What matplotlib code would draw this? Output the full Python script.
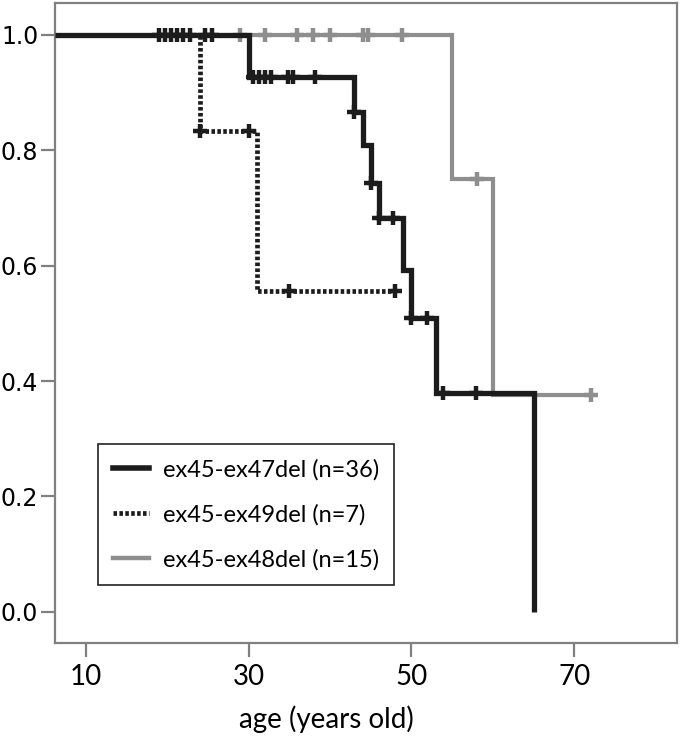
import numpy as np
import matplotlib
matplotlib.use("Agg")
import matplotlib.pyplot as plt
from matplotlib.lines import Line2D

plt.rcParams['font.family'] = ['Lato', 'DejaVu Sans']

# ex45-ex47del (n=36): step times / survival, censored ages
t47 = [6.2, 30, 43, 44, 45, 46, 49, 50, 53, 65]
s47 = [1.0, 0.926, 0.867, 0.809, 0.743, 0.683, 0.593, 0.51, 0.38, 0.0]
c47 = [19, 19.7, 20.5, 21.2, 22.8, 24.6, 25.5, 30.5, 31.3, 32, 32.7, 34.8,
       35.4, 38.1, 43, 45, 46, 47.7, 50, 51.9, 53.9, 57.9]

# ex45-ex49del (n=7)
t49 = [22, 24, 31, 48]
s49 = [1.0, 0.833, 0.556, 0.556]
c49 = [22, 24, 30, 35, 48]

# ex45-ex48del (n=15)
t48 = [29, 55, 60, 72]
s48 = [1.0, 0.75, 0.375, 0.375]
c48 = [29, 32, 35.9, 37.9, 40, 44, 44.7, 48.8, 58, 72]

labels = ["ex45-ex47del (n=36)", "ex45-ex49del (n=7)", "ex45-ex48del (n=15)"]

black = "#1c1c1c"
grey = "#8e8e8e"
dotted = (0, (0.75, 0.5))


def surv_at(t, s, c):
    idx = np.searchsorted(t, c, side='right') - 1
    return np.array(s)[idx]


fig = plt.figure(figsize=(6.89, 7.37), dpi=100)
ax = fig.add_axes([0.0798, 0.1275, 0.9028, 0.8684])

ax.step(t48, s48, where='post', color=grey, lw=3.0, solid_joinstyle='miter',
        solid_capstyle='butt', zorder=2)
ax.plot(c48, surv_at(t48, s48, c48), ls='none', marker='+', ms=10, mew=3.2,
        color=grey, zorder=2)

ax.step(t49, s49, where='post', color=black, lw=3.4, ls=dotted, zorder=3)
ax.plot(c49, surv_at(t49, s49, c49), ls='none', marker='+', ms=10, mew=3.2,
        color=black, zorder=3)

ax.step(t47, s47, where='post', color=black, lw=3.8, solid_joinstyle='miter',
        solid_capstyle='butt', zorder=4)
ax.plot(c47, surv_at(t47, s47, c47), ls='none', marker='+', ms=10, mew=3.2,
        color=black, zorder=4)

ax.set_xlim(6.23, 82.6)
ax.set_ylim(-0.054, 1.055)
ax.set_xticks([10, 30, 50, 70])
ax.set_yticks([0.0, 0.2, 0.4, 0.6, 0.8, 1.0])
ax.set_yticklabels(["0.0", "0.2", "0.4", "0.6", "0.8", "1.0"],
                   family='DejaVu Sans', fontsize=17)
ax.tick_params(axis='x', labelsize=20, length=10, width=1.6, color='#808080',
               pad=5)
ax.tick_params(axis='y', length=10, width=1.6, color='#808080', pad=2)
for sp in ax.spines.values():
    sp.set_color('#808080')
    sp.set_linewidth(1.6)

ax.set_xlabel("age (years old)", fontsize=20)
ax.xaxis.label.set_va('center')
ax.xaxis.set_label_coords(0.437, -0.119)

handles = [Line2D([], [], color=black, lw=4.0),
           Line2D([], [], color=black, lw=3.4, ls=dotted),
           Line2D([], [], color=grey, lw=3.2)]
leg = ax.legend(handles, labels, loc='upper left', bbox_to_anchor=(0.069, 0.311),
                borderaxespad=0, fontsize=17, handlelength=1.55,
                handletextpad=0.6, labelspacing=1.0, borderpad=0.62,
                fancybox=False, framealpha=1, edgecolor='#222222')
leg.get_frame().set_linewidth(1.2)

fig.savefig("out.png", dpi=100)
